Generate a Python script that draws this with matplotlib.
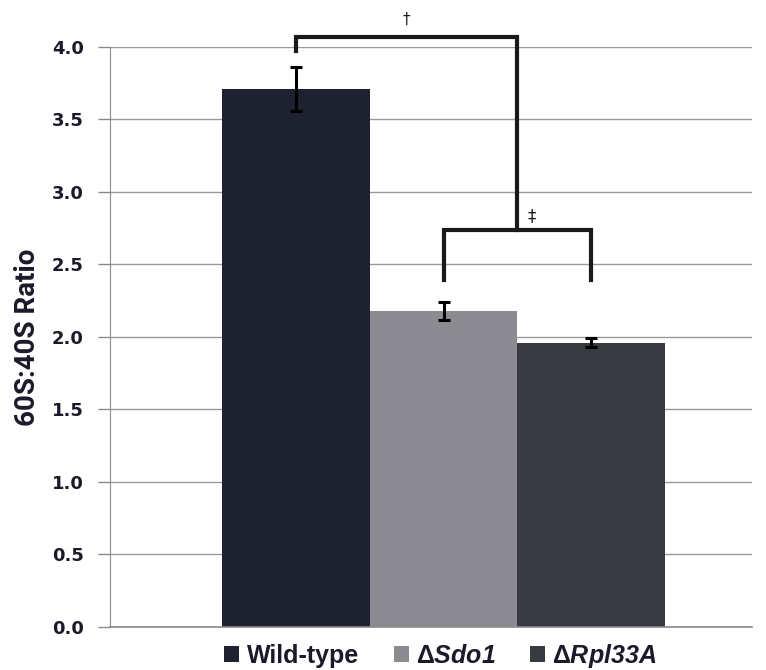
import matplotlib.pyplot as plt
import numpy as np

plt.rcParams['mathtext.fontset'] = 'custom'
plt.rcParams['mathtext.it'] = 'Liberation Sans:italic:bold'
plt.rcParams['mathtext.rm'] = 'Liberation Sans:italic:bold'

strains = ["Wild-type", r"Δ$Sdo1$", r"Δ$Rpl33A$"]
ratio = [3.71, 2.18, 1.96]
err = [0.15, 0.06, 0.03]
colors = ["#1d2130", "#8b8b91", "#383a42"]

sig1_y = 4.07   # wild-type vs mutants
sig2_y = 2.74   # Sdo1 vs Rpl33A

fig = plt.figure(figsize=(7.66, 6.70), dpi=100)
ax = fig.add_axes([0.1436, 0.0642, 0.8381, 0.8657])

x = np.arange(len(strains))
bars = ax.bar(x, ratio, width=1.0, color=colors, zorder=2, label=strains)
ax.errorbar(x, ratio, yerr=err, fmt="none", ecolor="black", elinewidth=2.2,
            capsize=4, capthick=2.2, zorder=3)

ax.set_xlim(-1.26, 3.09)
ax.set_ylim(0, 4.0)
ax.set_yticks(np.arange(0, 4.01, 0.5))
ax.set_yticklabels([f"{v:.1f}" for v in np.arange(0, 4.01, 0.5)],
                   fontsize=13, fontweight="bold", color="#1a1a2a",
                   family="DejaVu Sans")
ax.set_xticks([])
ax.yaxis.grid(True, color="#9a9a9a", linewidth=1.0, zorder=0)
ax.set_axisbelow(True)
ax.tick_params(axis="y", length=9, color="#8a8a8a", width=1.0, pad=10)
for s in ["top", "right"]:
    ax.spines[s].set_visible(False)
ax.spines["left"].set_color("#8a8a8a")
ax.spines["bottom"].set_color("#8a8a8a")
ax.spines["bottom"].set_linewidth(1.2)

ax.set_ylabel("60S:40S Ratio", fontsize=20, fontweight="bold",
              family="Roboto", color="#1a1a2a")
ax.yaxis.set_label_coords(-0.108, 0.5)

# significance brackets
lw = 3
ax.plot([x[1], x[1], x[2], x[2]], [2.39, sig2_y, sig2_y, 2.39], color="#1a1a1a",
        lw=lw, clip_on=False, zorder=4, solid_joinstyle="miter")
mid = (x[1] + x[2]) / 2
ax.plot([x[0], x[0], mid, mid], [3.97, sig1_y, sig1_y, sig2_y], color="#1a1a1a",
        lw=lw, clip_on=False, zorder=4, solid_joinstyle="miter")
ax.text((x[0] + mid) / 2, sig1_y + 0.07, "†", ha="center", va="bottom",
        fontsize=11, color="#1a1a1a")
ax.text(mid + 0.1, sig2_y + 0.03, "‡", ha="center", va="bottom",
        fontsize=12, color="#1a1a1a")

leg = ax.legend(handles=bars, labels=strains, loc="upper center",
                bbox_to_anchor=(0.515, 0.004), ncol=3, frameon=False,
                handlelength=0.6, handleheight=0.6, handletextpad=0.28,
                columnspacing=1.4, borderpad=0.2,
                prop={"family": "Liberation Sans", "weight": "bold", "size": 18})
for t in leg.get_texts():
    t.set_color("#1a1a2a")

fig.savefig("out.png", dpi=100)
